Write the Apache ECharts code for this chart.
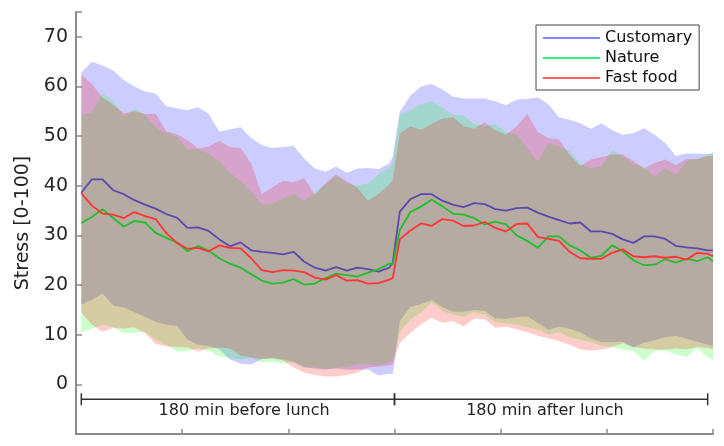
<!DOCTYPE html>
<html>
<head>
<meta charset="utf-8">
<script src="https://cdn.jsdelivr.net/npm/echarts@6/dist/echarts.min.js"></script>
<style>
  html, body { margin: 0; padding: 0; background: #fff; }
  #chart { width: 724px; height: 446px; }
</style>
</head>
<body>
<div id="chart"></div>
<script>
// minutes from start of the 360 min window (lunch at 180)
const minutes = [3, 9, 15, 21, 27, 33, 39, 45, 51, 57, 63, 69, 75, 81, 87, 93, 99, 105, 111, 117, 123, 129, 135, 141, 147, 153, 159, 165, 171, 177, 179,
  183, 189, 195, 201, 207, 213, 219, 225, 231, 237, 243, 249, 255, 261, 267, 273, 279, 285, 291, 297, 303, 309, 315, 321, 327, 333, 339, 345, 351, 357, 360];

// mean stress
const customaryMean = [38.6, 41.3, 41.3, 39.1, 38.3, 37.1, 36.2, 35.4, 34.3, 33.6, 31.5, 31.6, 30.9, 29.2, 27.8, 28.6, 27.0, 26.7, 26.5, 26.2, 26.7, 24.7, 23.5, 22.9, 23.6, 22.9, 23.5, 23.2, 22.7, 23.5, 24.5,
  34.8, 37.3, 38.3, 38.3, 37.0, 36.2, 35.7, 36.5, 36.3, 35.3, 35.0, 35.5, 35.6, 34.6, 33.8, 33.1, 32.4, 32.6, 30.8, 30.8, 30.3, 29.2, 28.5, 29.8, 29.8, 29.3, 27.9, 27.6, 27.4, 27.0, 27.0];
const natureMean = [32.5, 33.7, 35.3, 33.5, 31.8, 32.9, 32.6, 30.5, 29.5, 28.6, 26.8, 27.9, 26.9, 25.4, 24.3, 23.5, 22.2, 20.9, 20.3, 20.5, 21.2, 20.1, 20.3, 21.4, 22.3, 22.0, 21.7, 22.5, 23.2, 24.3, 24.1,
  31.1, 34.7, 35.8, 37.2, 35.9, 34.4, 34.2, 33.5, 32.2, 32.8, 32.2, 30.0, 28.9, 27.5, 29.8, 29.8, 28.0, 27.0, 25.5, 25.9, 28.0, 26.8, 25.0, 24.0, 24.1, 25.2, 24.5, 25.3, 24.8, 25.6, 24.8];
const fastMean = [38.5, 36.0, 34.4, 34.2, 33.5, 34.7, 33.9, 33.3, 30.5, 28.5, 27.3, 27.5, 26.8, 28.0, 27.5, 27.4, 25.4, 23.0, 22.6, 23.0, 22.9, 22.6, 21.5, 21.1, 22.0, 20.9, 21.0, 20.3, 20.4, 21.1, 21.4,
  29.2, 31.0, 32.4, 31.9, 33.3, 33.0, 31.9, 32.0, 32.7, 31.5, 30.8, 32.3, 32.4, 29.7, 29.3, 28.9, 26.7, 25.4, 25.3, 25.3, 26.5, 27.2, 25.8, 25.6, 25.8, 25.5, 25.7, 25.1, 26.5, 26.3, 25.8];

// band upper edges
const customaryHigh = [62.8, 65.0, 64.2, 63.2, 61.3, 60.0, 59.0, 58.6, 56.0, 55.6, 55.2, 55.8, 54.5, 50.9, 51.4, 51.8, 49.6, 48.2, 47.6, 47.8, 48.0, 45.5, 43.5, 42.8, 43.9, 42.6, 43.5, 43.6, 43.4, 44.5, 45.9,
  54.9, 58.2, 60.0, 60.5, 59.4, 58.0, 57.6, 57.6, 57.6, 57.0, 56.2, 57.4, 57.5, 57.8, 56.4, 53.8, 53.3, 52.6, 51.5, 52.6, 51.2, 50.3, 50.6, 51.6, 50.3, 48.6, 46.0, 46.5, 46.5, 46.4, 46.6];
const natureHigh = [54.3, 54.8, 58.6, 57.0, 54.0, 55.5, 54.3, 51.8, 50.6, 49.9, 47.3, 47.4, 46.5, 45.0, 42.6, 40.9, 38.9, 36.3, 36.4, 37.5, 38.4, 37.0, 38.8, 40.2, 42.0, 40.5, 40.0, 40.5, 42.3, 43.6, 44.5,
  54.3, 55.3, 56.4, 57.0, 55.8, 54.3, 54.1, 52.5, 52.0, 52.4, 50.8, 50.4, 47.6, 44.9, 48.6, 47.9, 47.0, 44.5, 43.5, 44.0, 47.2, 45.9, 44.4, 43.9, 41.8, 43.6, 42.2, 45.0, 45.4, 46.2, 46.5];
const fastHigh = [62.4, 60.5, 57.8, 56.3, 54.6, 55.0, 54.4, 54.5, 51.0, 50.4, 49.2, 47.5, 47.9, 49.0, 47.8, 47.6, 44.5, 38.3, 39.7, 41.0, 40.7, 41.5, 38.2, 40.5, 42.3, 40.9, 39.6, 37.0, 38.4, 40.2, 41.2,
  50.6, 52.0, 51.3, 52.5, 53.5, 53.8, 52.0, 51.5, 52.8, 51.2, 50.3, 52.0, 54.5, 50.8, 49.6, 49.3, 46.2, 44.0, 45.3, 45.8, 46.3, 46.3, 45.0, 43.5, 44.6, 45.3, 44.2, 45.4, 45.4, 46.0, 46.0];

// band lower edges
const customaryLow = [16.1, 17.0, 18.3, 15.9, 15.5, 14.5, 13.6, 12.6, 12.0, 11.8, 9.0, 8.0, 7.7, 7.0, 5.0, 4.2, 4.0, 5.1, 5.3, 5.0, 4.5, 3.4, 3.2, 3.0, 3.2, 3.0, 3.0, 3.0, 1.8, 2.2, 2.0,
  12.7, 15.6, 16.2, 17.0, 15.6, 14.6, 14.6, 15.0, 14.8, 13.3, 13.2, 13.5, 13.7, 12.4, 11.0, 11.6, 11.2, 10.5, 9.3, 8.5, 8.5, 8.6, 7.4, 8.4, 8.9, 9.5, 9.8, 9.2, 8.6, 8.0, 7.7];
const natureLow = [10.5, 11.2, 12.0, 11.5, 10.3, 10.4, 10.6, 9.0, 8.0, 6.6, 6.7, 7.2, 6.8, 5.6, 5.4, 5.0, 5.3, 4.4, 4.5, 4.2, 4.4, 3.5, 3.4, 3.1, 3.3, 3.5, 4.0, 4.0, 3.9, 4.4, 4.7,
  10.5, 13.0, 14.5, 16.5, 14.8, 14.0, 13.6, 14.5, 14.0, 12.5, 12.2, 12.0, 11.5, 11.0, 10.0, 10.5, 9.5, 9.0, 8.5, 7.8, 7.5, 7.0, 6.7, 4.8, 6.7, 6.8, 6.0, 5.5, 7.3, 5.5, 4.8];
const fastLow = [14.4, 12.0, 10.6, 11.4, 11.2, 11.5, 10.3, 8.2, 7.6, 7.5, 7.4, 6.6, 7.2, 7.4, 7.2, 5.8, 5.4, 5.1, 5.2, 4.8, 3.4, 2.4, 1.9, 1.6, 1.6, 1.9, 2.4, 3.4, 3.6, 3.8, 4.0,
  8.4, 10.4, 12.1, 13.4, 12.4, 12.7, 11.7, 13.2, 13.1, 11.4, 11.6, 11.1, 10.5, 9.8, 9.3, 8.7, 8.0, 7.0, 6.8, 7.0, 7.5, 8.3, 7.5, 7.2, 7.0, 7.0, 7.2, 7.0, 7.5, 7.3, 7.0];

// period brackets under the curves
const periods = ["180 min before lunch", "180 min after lunch"];
const periodStart = [3, 180];
const periodEnd = [180, 357];
const periodLabelAt = [95, 265];
const bracketLevel = -3;

const yTicks = [0, 10, 20, 30, 40, 50, 60, 70];

const FONT = "DejaVu Sans";

const pairs = (vals) => minutes.map((t, i) => [t, vals[i]]);

const bands = [
  { low: customaryLow, high: customaryHigh, fill: "rgba(0,0,255,0.2)" },
  { low: natureLow, high: natureHigh, fill: "rgba(0,255,0,0.2)" },
  { low: fastLow, high: fastHigh, fill: "rgba(255,0,0,0.2)" },
];

const meanLine = (name, vals, color) => ({
  name: name,
  type: "line",
  data: pairs(vals),
  showSymbol: false,
  symbol: "none",
  lineStyle: { color: color, width: 1.8 },
  itemStyle: { color: color },
  silent: true,
});

const chart = echarts.init(document.getElementById("chart"));
chart.setOption({
  animation: false,
  backgroundColor: "#fff",
  grid: { left: 76, top: 12, width: 637, height: 422 },
  legend: {
    data: [
      { name: "Customary", itemStyle: { color: "#8585ff" } },
      { name: "Nature", itemStyle: { color: "#30ee80" } },
      { name: "Fast food", itemStyle: { color: "#ff6060" } },
    ],
    orient: "vertical",
    left: 536,
    top: 25,
    icon: "rect",
    itemWidth: 57,
    itemHeight: 2,
    itemGap: 4,
    padding: [5, 7, 4, 7],
    borderColor: "#444",
    borderWidth: 1,
    backgroundColor: "#fff",
    selectedMode: false,
    textStyle: { fontFamily: FONT, fontSize: 16, lineHeight: 16, color: "#111" },
  },
  xAxis: {
    type: "value",
    min: 0,
    max: 360,
    interval: 60,
    axisLine: { onZero: false, lineStyle: { color: "#8c8c8c", width: 2 } },
    axisTick: { inside: true, length: 5, lineStyle: { color: "#8c8c8c", width: 1.5 } },
    axisLabel: { show: false },
    splitLine: { show: false },
  },
  yAxis: {
    type: "value",
    min: -10,
    max: 75,
    interval: 10,
    name: "Stress [0-100]",
    nameLocation: "middle",
    nameRotate: 90,
    nameGap: 42,
    nameTextStyle: { fontFamily: FONT, fontSize: 19, color: "#222" },
    axisLine: { onZero: false, lineStyle: { color: "#8c8c8c", width: 2 } },
    axisTick: { inside: true, length: 6, lineStyle: { color: "#8c8c8c", width: 1.5 } },
    axisLabel: {
      fontFamily: FONT,
      fontSize: 19,
      color: "#262626",
      margin: 8,
      formatter: (v) => (yTicks.indexOf(v) >= 0 ? String(v) : ""),
    },
    splitLine: { show: false },
  },
  series: [
    {
      // shaded min-max bands, one polygon per diet
      name: "bands",
      type: "custom",
      silent: true,
      clip: false,
      data: bands.map((b) => [minutes[0], b.low[0]]),
      renderItem: function (params, api) {
        const b = bands[params.dataIndex];
        const top = minutes.map((t, i) => api.coord([t, b.high[i]]));
        const bottom = minutes.map((t, i) => api.coord([t, b.low[i]])).reverse();
        return {
          type: "polygon",
          shape: { points: top.concat(bottom) },
          style: { fill: b.fill, stroke: null },
        };
      },
    },
    meanLine("Customary", customaryMean, "#5a4aae"),
    meanLine("Nature", natureMean, "#22bf2a"),
    meanLine("Fast food", fastMean, "#ff3535"),
    {
      name: "periods",
      type: "custom",
      silent: true,
      data: periods.map((p, i) => [periodStart[i], periodEnd[i], periodLabelAt[i]]),
      encode: { x: [0, 1, 2] },
      renderItem: function (params, api) {
        const a = api.coord([api.value(0), bracketLevel]);
        const b = api.coord([api.value(1), bracketLevel]);
        const c = api.coord([api.value(2), bracketLevel]);
        const st = { stroke: "#333", lineWidth: 1.5 };
        return {
          type: "group",
          children: [
            { type: "line", shape: { x1: a[0], y1: a[1], x2: b[0], y2: b[1] }, style: st },
            { type: "line", shape: { x1: a[0], y1: a[1] - 6, x2: a[0], y2: a[1] + 6 }, style: st },
            { type: "line", shape: { x1: b[0], y1: b[1] - 6, x2: b[0], y2: b[1] + 6 }, style: st },
            {
              type: "text",
              style: {
                text: periods[params.dataIndex],
                x: c[0],
                y: a[1] + 12,
                align: "center",
                verticalAlign: "middle",
                fontFamily: FONT,
                fontSize: 16,
                fill: "#222",
              },
            },
          ],
        };
      },
    },
  ],
});
</script>
</body>
</html>
